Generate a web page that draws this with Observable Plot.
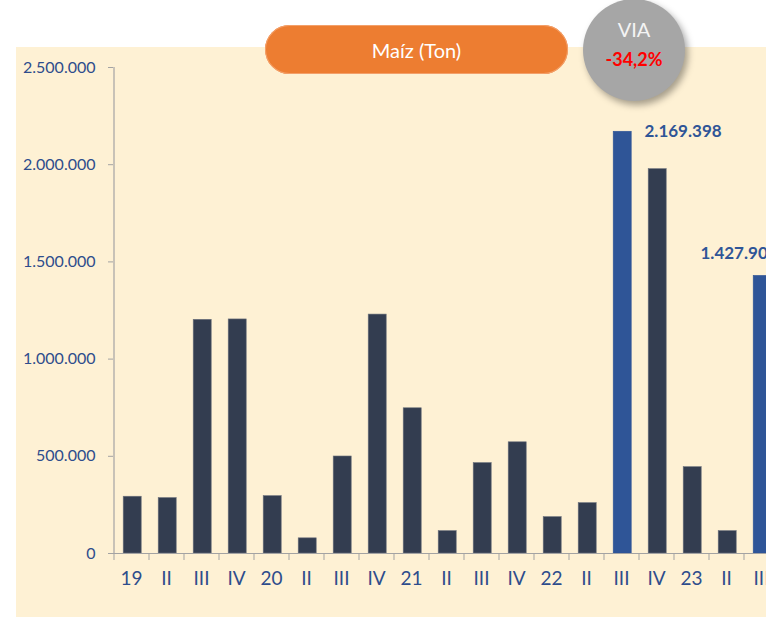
<!DOCTYPE html>
<html><head><meta charset="utf-8">
<script src="https://cdn.jsdelivr.net/npm/d3@7"></script>
<script src="https://cdn.jsdelivr.net/npm/@observablehq/plot@0.6"></script>
<style>
html,body{margin:0;padding:0;width:766px;height:620px;overflow:hidden;background:#fff;font-family:Lato,sans-serif;}
#panel{position:absolute;left:16px;top:47px;width:760px;height:570px;background:#fef1d4;}
#chart{position:absolute;left:0;top:0;width:780px;height:600px;}
#pill{position:absolute;left:265px;top:25px;width:303px;height:49px;border-radius:25px;background:#ed7d31;color:#fff;font:20px Lato,sans-serif;display:flex;align-items:center;justify-content:center;box-shadow:0 0 0 1px #f3a06a inset;}
#via{position:absolute;left:583px;top:-1px;width:102px;height:102px;border-radius:50%;background:#a6a6a6;box-shadow:3px 4px 7px rgba(0,0,0,0.35);}
#via .a{position:absolute;left:0;width:100%;top:18px;text-align:center;color:#f4f4f4;font:20px Lato,sans-serif;line-height:24px;}
#via .b{position:absolute;left:0;width:100%;top:49px;text-align:center;color:#ff0000;font:bold 18px Lato,sans-serif;line-height:22px;}
</style>
</head><body>
<div id="panel"></div>
<div id="chart"></div>
<div id="pill">Maíz (Ton)</div>
<div id="via"><div class="a">VIA</div><div class="b">-34,2%</div></div>
<script>
const categories = ["2019-I","2019-II","2019-III","2019-IV","2020-I","2020-II","2020-III","2020-IV","2021-I","2021-II","2021-III","2021-IV","2022-I","2022-II","2022-III","2022-IV","2023-I","2023-II","2023-III"];
const tickLabels = ["19","II","III","IV","20","II","III","IV","21","II","III","IV","22","II","III","IV","23","II","III"];
const values = [292000,285000,1202000,1204000,295000,78000,499000,1229000,747000,115000,465000,572000,187000,259000,2169398,1977000,444000,115000,1427908];
const highlighted = ["2022-III","2023-III"];
const yTicks = [0,500000,1000000,1500000,2000000,2500000];

const textColor = "#2e4d8c";
const darkBar = "#333d50";
const blueBar = "#2f5597";
const axisGrey = "#a3a3a3";

const loc = d3.formatLocale({decimal:",", thousands:".", grouping:[3], currency:["",""]});
const fmt = loc.format(",d");

const data = categories.map((c,i)=>({cat:c, value:values[i], label:tickLabels[i], hi: highlighted.includes(c)}));
const lab22 = data.filter(d=>d.cat===highlighted[0]);
const lab23 = data.filter(d=>d.cat===highlighted[1]);

const chart = Plot.plot({
  width:780, height:600,
  marginLeft:113, marginRight:2, marginTop:67, marginBottom:47,
  style:{background:"transparent", overflow:"visible", fontFamily:"Lato, sans-serif"},
  x:{type:"band", domain:categories, paddingInner:0.5, paddingOuter:0.25, axis:null},
  y:{domain:[0,2500000], axis:null},
  marks:[
    Plot.barY(data,{x:"cat", y:"value", fill:d=>d.hi?blueBar:darkBar, stroke:d=>d.hi?blueBar:"#6b717c", strokeWidth:0.6, dx:1.2}),
    Plot.ruleX([categories[0]],{x:d=>d, dx:-17.5, y1:0, y2:2500000, stroke:axisGrey, strokeWidth:1.2}),
    Plot.ruleY([0],{stroke:axisGrey, strokeWidth:1.2}),
    Plot.axisY({ticks:yTicks, tickFormat:fmt, tickSize:5, tickPadding:13, stroke:axisGrey, fill:textColor, fontSize:16, label:null}),
    Plot.axisX({tickSize:7, tickFormat:()=>"", dx:-17.5, stroke:axisGrey, label:null}),
    Plot.axisX({tickSize:0, tickPadding:18, tickFormat:d=>tickLabels[categories.indexOf(d)], fill:textColor, fontSize:19, label:null}),
    Plot.text(lab22,{x:"cat", y:"value", text:d=>fmt(d.value), textAnchor:"start", dx:23, dy:0, fill:blueBar, fontSize:17, fontWeight:"bold"}),
    Plot.text(lab23,{x:"cat", y:"value", text:d=>fmt(d.value), textAnchor:"start", dx:-61, dy:-22, fill:blueBar, fontSize:17, fontWeight:"bold"})
  ]
});
document.getElementById("chart").appendChild(chart);
</script>
</body></html>
